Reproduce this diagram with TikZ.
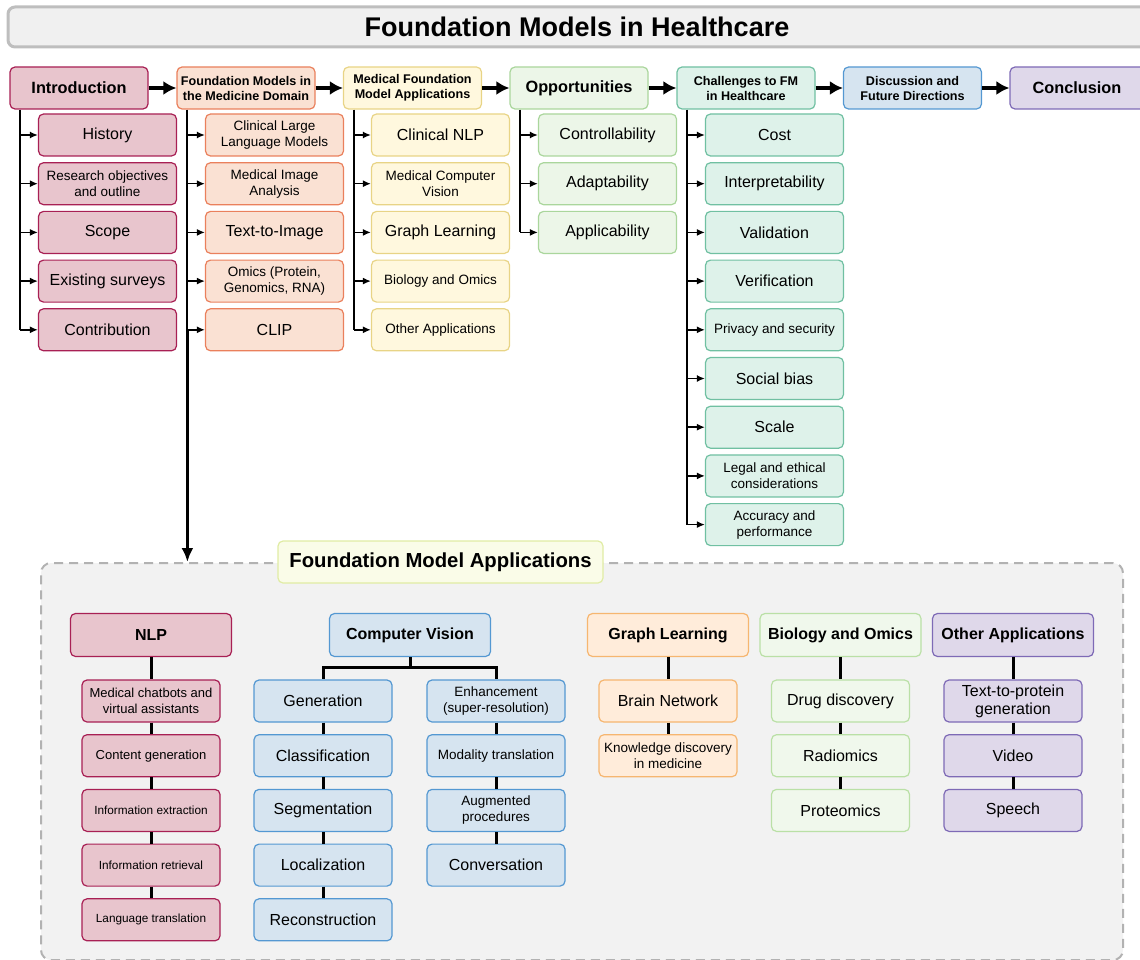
\documentclass[tikz,border=0pt]{standalone}
\usepackage{fontspec}
\setmainfont{Liberation Sans}
\usetikzlibrary{positioning, arrows.meta}

\definecolor{pinkfill}{RGB}{232,197,205}
\definecolor{pinkline}{RGB}{168,32,84}
\definecolor{peachfill}{RGB}{250,225,211}
\definecolor{peachline}{RGB}{234,128,92}
\definecolor{yellowfill}{RGB}{255,248,222}
\definecolor{yellowline}{RGB}{232,212,134}
\definecolor{oppfill}{RGB}{236,246,232}
\definecolor{oppline}{RGB}{170,214,156}
\definecolor{tealfill}{RGB}{222,242,234}
\definecolor{tealline}{RGB}{112,192,162}
\definecolor{bluefill}{RGB}{214,228,240}
\definecolor{blueline}{RGB}{84,152,210}
\definecolor{purplefill}{RGB}{223,216,234}
\definecolor{purpleline}{RGB}{126,106,182}
\definecolor{orangefill}{RGB}{255,236,218}
\definecolor{orangeline}{RGB}{246,182,112}
\definecolor{biofill}{RGB}{240,248,236}
\definecolor{bioline}{RGB}{186,224,166}
\definecolor{panelfill}{RGB}{242,242,242}
\definecolor{panelline}{RGB}{178,178,178}
\definecolor{titlefill}{RGB}{240,240,240}
\definecolor{titleline}{RGB}{190,190,190}
\definecolor{tagfill}{RGB}{250,252,232}
\definecolor{tagline}{RGB}{224,236,164}

\tikzset{
  box/.style={draw, rounded corners=5pt, line width=1.2pt, align=center, inner sep=2pt},
  pinkbox/.style={fill=pinkfill, draw=pinkline},
  peachbox/.style={fill=peachfill, draw=peachline},
  yellowbox/.style={fill=yellowfill, draw=yellowline},
  oppbox/.style={fill=oppfill, draw=oppline},
  tealbox/.style={fill=tealfill, draw=tealline},
  bluebox/.style={fill=bluefill, draw=blueline},
  purplebox/.style={fill=purplefill, draw=purpleline},
  orangebox/.style={fill=orangefill, draw=orangeline},
  biobox/.style={fill=biofill, draw=bioline},
  % font sizes
  bigfont/.style={font=\bfseries\fontsize{16.3}{18}\selectfont},
  smallfont/.style={font=\fontsize{13.5}{16}\selectfont},
  tinyfont/.style={font=\fontsize{11.8}{14}\selectfont},
  % boxes
  chapter/.style={box, minimum width=138pt, minimum height=42pt, font=\bfseries\fontsize{12.6}{15}\selectfont},
  item/.style={box, minimum width=138pt, minimum height=42pt, font=\fontsize{16}{18}\selectfont},
  group/.style={box, minimum width=161pt, minimum height=43pt, font=\bfseries\fontsize{16}{18}\selectfont},
  leaf/.style={box, minimum width=138pt, minimum height=42pt, font=\fontsize{16}{18}\selectfont},
  % connectors
  bigarrow/.style={-{Latex[length=13pt,width=14pt]}, line width=4.5pt},
  trunk/.style={line width=2pt},
  link/.style={-{Latex[length=8pt,width=7pt]}, line width=1.5pt},
  downarrow/.style={-{Latex[length=14pt,width=12pt]}, line width=2.8pt},
  stem/.style={line width=3pt},
}

\begin{document}
\begin{tikzpicture}[x=1pt, y=-1pt]
    \useasboundingbox (0,0) rectangle (1140,960);

    % Title bar
    \node[box, fill=titlefill, draw=titleline, line width=3pt, rounded corners=7pt, minimum width=1142pt, minimum height=40pt, font=\bfseries\fontsize{27}{30}\selectfont] (title) at (579,27) {\hspace*{-4pt}Foundation Models in Healthcare};

    % Main chapters
    \node[chapter, pinkbox, bigfont] (intro) at (79,88) {Introduction};
    \node[chapter, peachbox] (fmmed) at (246,88) {Foundation Models in\\the Medicine Domain};
    \node[chapter, yellowbox] (medapp) at (412.5,88) {Medical Foundation\\Model Applications};
    \node[chapter, oppbox, bigfont] (opp) at (579,88) {Opportunities};
    \node[chapter, tealbox] (chall) at (746,88) {Challenges to FM\\in Healthcare};
    \node[chapter, bluebox] (disc) at (912.5,88) {Discussion and\\Future Directions};
    \node[chapter, purplebox, bigfont, text width=128pt] (concl) at (1079,88) {\hspace*{-4pt}Conclusion};

    % Thick arrows between chapters
    \draw[bigarrow] (intro.east) -- (fmmed.west);
    \draw[bigarrow] (fmmed.east) -- (medapp.west);
    \draw[bigarrow] (medapp.east) -- (opp.west);
    \draw[bigarrow] (opp.east) -- (chall.west);
    \draw[bigarrow] (chall.east) -- (disc.west);
    \draw[bigarrow] (disc.east) -- (concl.west);

    % Introduction sections
    \node[item, pinkbox] (hist) at (107.5,135) {History};
    \node[item, pinkbox, smallfont, below=5.5pt of hist] (resobj) {Research objectives\\and outline};
    \node[item, pinkbox, below=5.5pt of resobj] (scope) {Scope};
    \node[item, pinkbox, below=5.5pt of scope] (surveys) {Existing surveys};
    \node[item, pinkbox, below=5.5pt of surveys] (contrib) {Contribution};
    \coordinate (introtrunk) at ([xshift=11pt]intro.south west);
    \draw[trunk] (introtrunk) -- (introtrunk |- contrib.west);
    \draw[link] (introtrunk |- hist.west) -- (hist.west);
    \draw[link] (introtrunk |- resobj.west) -- (resobj.west);
    \draw[link] (introtrunk |- scope.west) -- (scope.west);
    \draw[link] (introtrunk |- surveys.west) -- (surveys.west);
    \draw[link] (introtrunk |- contrib.west) -- (contrib.west);

    % Foundation models in the medicine domain
    \node[item, peachbox, smallfont] (cllm) at (274.5,135) {Clinical Large\\Language Models};
    \node[item, peachbox, smallfont, below=5.5pt of cllm] (mia) {Medical Image\\Analysis};
    \node[item, peachbox, below=5.5pt of mia] (tti) {Text-to-Image};
    \node[item, peachbox, smallfont, below=5.5pt of tti] (omics) {Omics (Protein,\\Genomics, RNA)};
    \node[item, peachbox, below=5.5pt of omics] (clip) {CLIP};
    \coordinate (fmtrunk) at ([xshift=11pt]fmmed.south west);
    \draw[trunk] (fmtrunk) -- (fmtrunk |- clip.west);
    \draw[link] (fmtrunk |- cllm.west) -- (cllm.west);
    \draw[link] (fmtrunk |- mia.west) -- (mia.west);
    \draw[link] (fmtrunk |- tti.west) -- (tti.west);
    \draw[link] (fmtrunk |- omics.west) -- (omics.west);
    \draw[link] (fmtrunk |- clip.west) -- (clip.west);

    % Medical foundation model applications
    \node[item, yellowbox] (cnlp) at (440.5,135) {Clinical NLP};
    \node[item, yellowbox, smallfont, below=5.5pt of cnlp] (mcv) {Medical Computer\\Vision};
    \node[item, yellowbox, below=5.5pt of mcv] (graph) {Graph Learning};
    \node[item, yellowbox, smallfont, below=5.5pt of graph] (bio) {Biology and Omics};
    \node[item, yellowbox, smallfont, below=5.5pt of bio] (other) {Other Applications};
    \coordinate (apptrunk) at ([xshift=11pt]medapp.south west);
    \draw[trunk] (apptrunk) -- (apptrunk |- other.west);
    \draw[link] (apptrunk |- cnlp.west) -- (cnlp.west);
    \draw[link] (apptrunk |- mcv.west) -- (mcv.west);
    \draw[link] (apptrunk |- graph.west) -- (graph.west);
    \draw[link] (apptrunk |- bio.west) -- (bio.west);
    \draw[link] (apptrunk |- other.west) -- (other.west);

    % Opportunities
    \node[item, oppbox] (ctrl) at (607.5,135) {Controllability};
    \node[item, oppbox, below=5.5pt of ctrl] (adapt) {Adaptability};
    \node[item, oppbox, below=5.5pt of adapt] (appl) {Applicability};
    \coordinate (opptrunk) at ([xshift=11pt]opp.south west);
    \draw[trunk] (opptrunk) -- (opptrunk |- appl.west);
    \draw[link] (opptrunk |- ctrl.west) -- (ctrl.west);
    \draw[link] (opptrunk |- adapt.west) -- (adapt.west);
    \draw[link] (opptrunk |- appl.west) -- (appl.west);

    % Challenges
    \node[item, tealbox] (cost) at (774.5,135) {Cost};
    \node[item, tealbox, below=5.5pt of cost] (interp) {Interpretability};
    \node[item, tealbox, below=5.5pt of interp] (valid) {Validation};
    \node[item, tealbox, below=5.5pt of valid] (verif) {Verification};
    \node[item, tealbox, smallfont, below=5.5pt of verif] (privacy) {Privacy and security};
    \node[item, tealbox, below=5.5pt of privacy] (bias) {Social bias};
    \node[item, tealbox, below=5.5pt of bias] (scale) {Scale};
    \node[item, tealbox, smallfont, below=5.5pt of scale] (legal) {Legal and ethical\\considerations};
    \node[item, tealbox, smallfont, below=5.5pt of legal] (accur) {Accuracy and\\performance};
    \coordinate (challtrunk) at ([xshift=11pt]chall.south west);
    \draw[trunk] (challtrunk) -- (challtrunk |- accur.west);
    \draw[link] (challtrunk |- cost.west) -- (cost.west);
    \draw[link] (challtrunk |- interp.west) -- (interp.west);
    \draw[link] (challtrunk |- valid.west) -- (valid.west);
    \draw[link] (challtrunk |- verif.west) -- (verif.west);
    \draw[link] (challtrunk |- privacy.west) -- (privacy.west);
    \draw[link] (challtrunk |- bias.west) -- (bias.west);
    \draw[link] (challtrunk |- scale.west) -- (scale.west);
    \draw[link] (challtrunk |- legal.west) -- (legal.west);
    \draw[link] (challtrunk |- accur.west) -- (accur.west);

    % Applications panel
    \node[draw=panelline, fill=panelfill, dashed, dash pattern=on 9pt off 6pt, line width=2pt, rounded corners=10pt, minimum width=1082pt, minimum height=397pt] (panel) at (582,761.5) {};
    \draw[downarrow] (clip.west -| fmtrunk) -- (fmtrunk |- panel.north);
    \node[box, fill=tagfill, draw=tagline, minimum width=325pt, minimum height=42pt, font=\bfseries\fontsize{20.3}{22}\selectfont] (tag) at (440.5,562) {Foundation Model Applications};

    % NLP
    \node[group, pinkbox] (nlp) at (151,635) {NLP};
    \node[leaf, pinkbox, font=\fontsize{13}{16}\selectfont] (chat) at (151,701) {Medical chatbots and\\virtual assistants};
    \node[leaf, pinkbox, font=\fontsize{13}{16}\selectfont, below=11.5pt of chat] (content) {Content generation};
    \node[leaf, pinkbox, tinyfont, below=11.5pt of content] (extract) {Information extraction};
    \node[leaf, pinkbox, tinyfont, below=11.5pt of extract] (retrieve) {Information retrieval};
    \node[leaf, pinkbox, tinyfont, below=11.5pt of retrieve] (transl) {Language translation};
    \draw[stem] (nlp) -- (chat);
    \draw[stem] (chat) -- (content);
    \draw[stem] (content) -- (extract);
    \draw[stem] (extract) -- (retrieve);
    \draw[stem] (retrieve) -- (transl);

    % Computer vision
    \node[group, bluebox] (cv) at (410,635) {Computer Vision};
    \node[leaf, bluebox] (gen) at (323,701) {Generation};
    \node[leaf, bluebox, below=11.5pt of gen] (classif) {Classification};
    \node[leaf, bluebox, below=11.5pt of classif] (segm) {Segmentation};
    \node[leaf, bluebox, below=11.5pt of segm] (local) {Localization};
    \node[leaf, bluebox, below=11.5pt of local] (recon) {Reconstruction};
    \node[leaf, bluebox, smallfont] (enhance) at (496,701) {Enhancement\\(super-resolution)};
    \node[leaf, bluebox, smallfont, below=11.5pt of enhance] (modal) {Modality translation};
    \node[leaf, bluebox, smallfont, below=11.5pt of modal] (augm) {Augmented\\procedures};
    \node[leaf, bluebox, below=11.5pt of augm] (conv) {Conversation};
    \coordinate (cvsplit) at ([yshift=-10pt]cv.south);
    \draw[stem] (cv.south) -- (cvsplit) -| (gen.north);
    \draw[stem] (cvsplit) -| (enhance.north);
    \draw[stem] (gen) -- (classif);
    \draw[stem] (classif) -- (segm);
    \draw[stem] (segm) -- (local);
    \draw[stem] (local) -- (recon);
    \draw[stem] (enhance) -- (modal);
    \draw[stem] (modal) -- (augm);
    \draw[stem] (augm) -- (conv);

    % Graph learning
    \node[group, orangebox] (gl) at (668,635) {Graph Learning};
    \node[leaf, orangebox] (brain) at (668,701) {Brain Network};
    \node[leaf, orangebox, smallfont, below=11.5pt of brain] (knowl) {Knowledge discovery\\in medicine};
    \draw[stem] (gl) -- (brain);
    \draw[stem] (brain) -- (knowl);

    % Biology and omics
    \node[group, biobox] (bo) at (840.5,635) {Biology and Omics};
    \node[leaf, biobox] (drug) at (840.5,701) {Drug discovery};
    \node[leaf, biobox, below=11.5pt of drug] (radio) {Radiomics};
    \node[leaf, biobox, below=11.5pt of radio] (prot) {Proteomics};
    \draw[stem] (bo) -- (drug);
    \draw[stem] (drug) -- (radio);
    \draw[stem] (radio) -- (prot);

    % Other applications
    \node[group, purplebox] (oa) at (1013,635) {Other Applications};
    \node[leaf, purplebox] (t2p) at (1013,701) {Text-to-protein\\generation};
    \node[leaf, purplebox, below=11.5pt of t2p] (video) {Video};
    \node[leaf, purplebox, below=11.5pt of video] (speech) {Speech};
    \draw[stem] (oa) -- (t2p);
    \draw[stem] (t2p) -- (video);
    \draw[stem] (video) -- (speech);
\end{tikzpicture}
\end{document}
